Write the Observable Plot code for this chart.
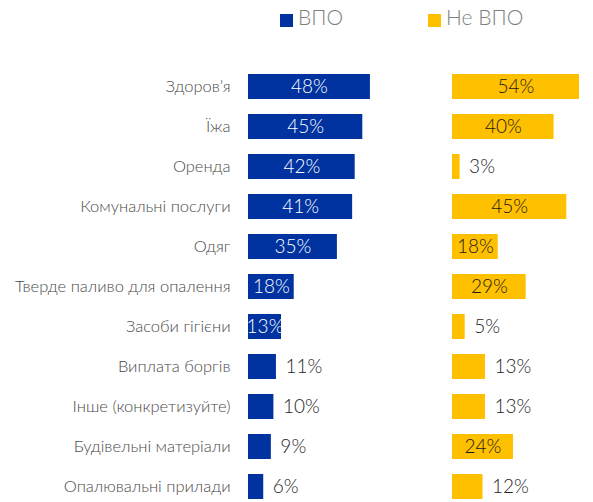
<!DOCTYPE html>
<html><head><meta charset="utf-8">
<script src="https://cdn.jsdelivr.net/npm/d3@7"></script>
<script src="https://cdn.jsdelivr.net/npm/@observablehq/plot@0.6"></script>
<style>
body{margin:0;background:#fff;font-family:Lato,"Open Sans",sans-serif;}
#legend{position:relative;width:593px;height:40px;}
.sw{position:absolute;top:14px;width:13px;height:13px;}
.lt{position:absolute;top:4px;font-size:21px;line-height:26px;color:#7f7f7f;font-weight:300;}
</style></head><body>
<div id="legend"></div>
<div id="chart"></div>
<script>
const categories = ["Здоров’я","Їжа","Оренда","Комунальні послуги","Одяг","Тверде паливо для опалення","Засоби гігієни","Виплата боргів","Інше (конкретизуйте)","Будівельні матеріали","Опалювальні прилади"];
const vpo = [48,45,42,41,35,18,13,11,10,9,6];
const nonVpo = [54,40,3,45,18,29,5,13,13,24,12];
const seriesNames = ["ВПО","Не ВПО"];
const seriesColors = ["#0033a0","#ffc000"];
const insideMin = [13,18];

const data = [];
categories.forEach((c,i)=>{
  data.push({category:c, series:seriesNames[0], value:vpo[i], inside: vpo[i]>=insideMin[0]});
  data.push({category:c, series:seriesNames[1], value:nonVpo[i], inside: nonVpo[i]>=insideMin[1]});
});

// legend
const lg = document.getElementById("legend");
const legX = [280, 428];
seriesNames.forEach((s,i)=>{
  const sw = document.createElement("div");
  sw.className="sw"; sw.style.left=legX[i]+"px"; sw.style.background=seriesColors[i];
  const t = document.createElement("div");
  t.className="lt"; t.style.left=(legX[i]+18)+"px"; t.textContent=s;
  lg.appendChild(sw); lg.appendChild(t);
});

const fmt = d => d.value + "%";
const chart = Plot.plot({
  width: 593, height: 462,
  marginLeft: 247, marginRight: 13, marginTop: 30, marginBottom: 0,
  style: {fontFamily: "Lato, 'Open Sans', sans-serif", fontSize: "16.5px", fontWeight: 300, color: "#4a4a4a", background: "#fff"},
  fx: {domain: seriesNames, axis: null, paddingInner: 0.3756, paddingOuter: 0},
  x: {domain: [0, 50], clamp: true, axis: null},
  y: {domain: categories, paddingInner: 0.384, paddingOuter: 0, tickSize: 0, tickPadding: 18, label: null},
  color: {domain: seriesNames, range: seriesColors},
  marks: [
    Plot.barX(data, {fx: "series", y: "category", x: "value", fill: "series"}),
    Plot.text(data.filter(d => d.inside && d.series === seriesNames[0]), {fx: "series", y: "category", x: d => d.value/2, text: fmt, fill: "white", fontSize: 19, fontWeight: 300}),
    Plot.text(data.filter(d => d.inside && d.series === seriesNames[1]), {fx: "series", y: "category", x: d => Math.min(d.value, 50)/2, text: fmt, fill: "#1a1a1a", fontSize: 19, fontWeight: 300}),
    Plot.text(data.filter(d => !d.inside), {fx: "series", y: "category", x: "value", text: fmt, textAnchor: "start", dx: 9, fill: "#262626", fontSize: 19, fontWeight: 300})
  ]
});
document.getElementById("chart").appendChild(chart);
</script>
</body></html>
